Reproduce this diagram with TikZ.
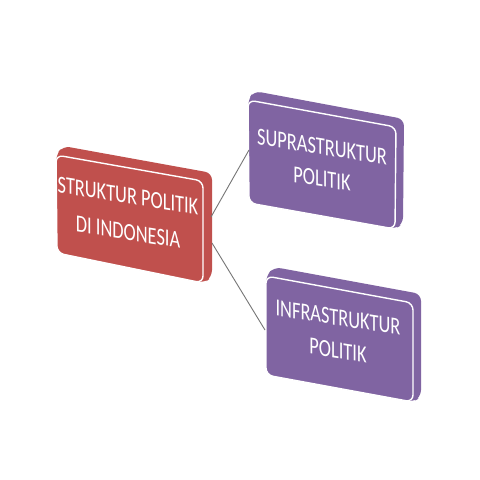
\documentclass[tikz,border=0pt]{standalone}
\usepackage{fontspec}
\setmainfont{Carlito}
\definecolor{redbox}{HTML}{C0504D}
\definecolor{purplebox}{HTML}{8064A2}
\definecolor{conn}{HTML}{767676}
\begin{document}
\begin{tikzpicture}[x=1pt,y=-1pt,
  slab/.style={fill=#1, rounded corners=7pt},
  face/.style={fill=#1, draw=white, line width=1.4pt, rounded corners=7pt},
  boxlabel/.style={text=white, align=center, inner sep=0pt, yslant=-0.16, xscale=0.75},
  link/.style={draw=conn, line width=0.9pt}]
\useasboundingbox[fill=white] (0,0) rectangle (480,480);

% red box
\fill[slab=redbox] (56,155) -- (63,146) -- (212,173) -- (212,277) -- (204,283) -- (57,253) -- cycle;
\path[face=redbox] (56,155) -- (203,181) -- (203,283) -- (57,253) -- cycle;
\node[boxlabel, font=\fontsize{24.5}{36}\selectfont] (root) at (128,214) {STRUKTUR POLITIK\\DI INDONESIA};

% top purple box
\fill[slab=purplebox] (248,100) -- (254,91) -- (404,119) -- (403,224) -- (395,229) -- (249,203) -- cycle;
\path[face=purplebox] (248,100) -- (396,127) -- (395,229) -- (249,203) -- cycle;
\node[boxlabel, font=\fontsize{24.5}{32}\selectfont] (supra) at (322,163) {SUPRASTRUKTUR\\POLITIK};

% bottom purple box
\fill[slab=purplebox] (266,276) -- (274,267) -- (421,294) -- (421,397) -- (413,402) -- (266,375) -- cycle;
\path[face=purplebox] (266,276) -- (413,303) -- (413,402) -- (266,375) -- cycle;
\node[boxlabel, font=\fontsize{24.5}{33}\selectfont] (infra) at (338,334) {INFRASTRUKTUR\\POLITIK};

% connectors
\coordinate (rootA) at (211,217);
\coordinate (rootB) at (212,243);
\coordinate (supraIn) at (249,150);
\coordinate (infraIn) at (265,330);
\draw[link] (rootA) -- (supraIn);
\draw[link] (rootB) -- (infraIn);
\end{tikzpicture}
\end{document}
